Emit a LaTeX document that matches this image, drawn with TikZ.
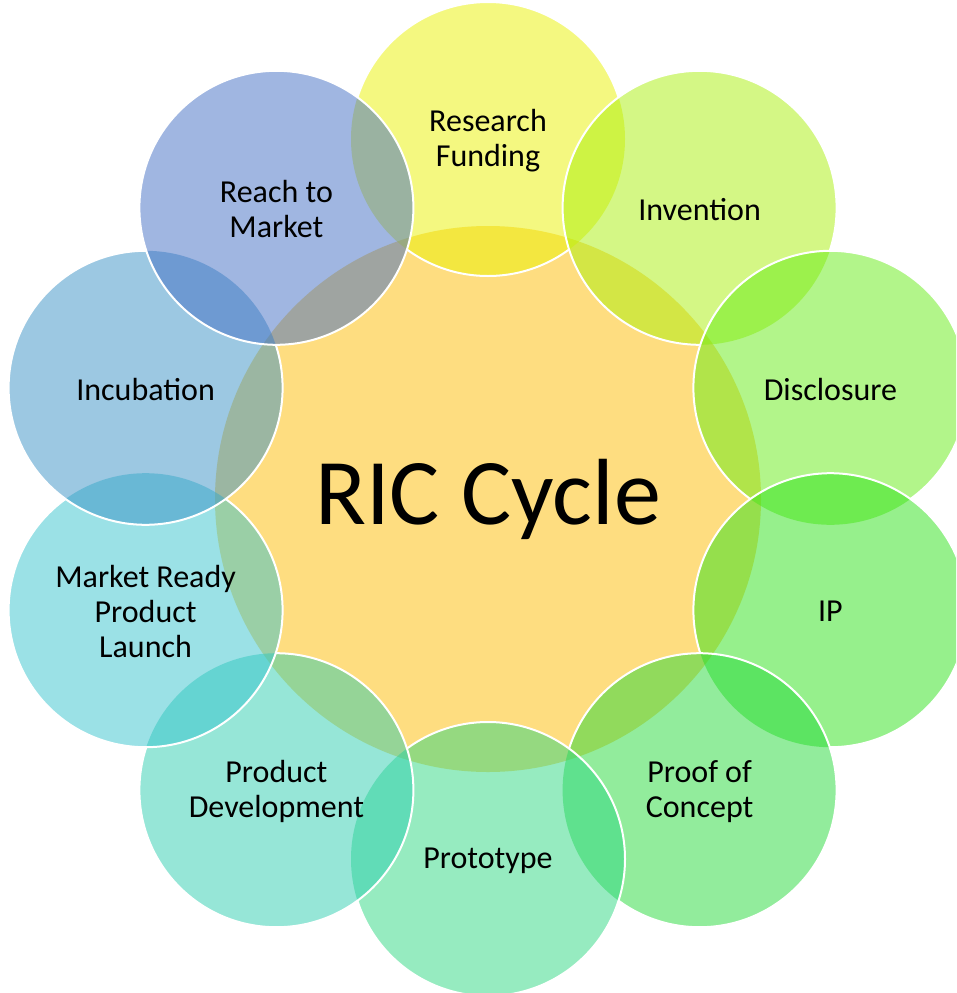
\documentclass[tikz,border=0pt]{standalone}
\usepackage{fontspec}
\setmainfont{Carlito}
\definecolor{ccenter}{RGB}{254,221,128}
\definecolor{cA}{RGB}{233,241,1}
\definecolor{cB}{RGB}{169,239,11}
\definecolor{cC}{RGB}{101,235,21}
\definecolor{cD}{RGB}{45,225,25}
\definecolor{cE}{RGB}{37,217,57}
\definecolor{cF}{RGB}{45,215,129}
\definecolor{cG}{RGB}{45,205,175}
\definecolor{cH}{RGB}{55,195,205}
\definecolor{cI}{RGB}{57,145,197}
\definecolor{cJ}{RGB}{65,109,195}
\begin{document}
\begin{tikzpicture}[x=1pt,y=-1pt,
  centrebox/.style={circle,minimum size=546pt,inner sep=0pt,fill=ccenter},
  outerbox/.style={circle,minimum size=274pt,inner sep=0pt,fill opacity=0.5,text opacity=1},
  rim/.style={white,line width=2pt},
  lbl/.style={align=center,text=black,font=\fontsize{32}{35}\selectfont,yshift=-1.5pt},
  biglbl/.style={text=black,font=\fontsize{94}{100}\selectfont}]
\useasboundingbox (0,0) rectangle (956,993);
\clip (0,0) rectangle (956,993);
% centre
\node[centrebox] (c) at (488,499) {};
% outer circles (drawn clockwise from top)
\node[outerbox,fill=cA] (rf) at (488.0,139.0) {};
\coordinate (pB) at (699.6,207.8);
\coordinate (pJ) at (276.4,207.8);
\begin{scope}[even odd rule]
\clip (-50,-50) rectangle (1010,1050) (pB) circle[radius=137pt] (pJ) circle[radius=137pt];
\draw[rim] (rf.center) circle[radius=137pt];
\end{scope}

\node[outerbox,fill=cB] (inv) at (699.6,207.8) {};
\begin{scope}[even odd rule]
\clip (-50,-50) rectangle (1010,1050) (830.4,387.8) circle[radius=137pt];
\draw[rim] (inv.center) circle[radius=137pt];
\end{scope}

\node[outerbox,fill=cC] (dis) at (830.4,387.8) {};
\begin{scope}[even odd rule]
\clip (-50,-50) rectangle (1010,1050) (830.4,610.2) circle[radius=137pt];
\draw[rim] (dis.center) circle[radius=137pt];
\end{scope}

\node[outerbox,fill=cD] (ip) at (830.4,610.2) {};
\begin{scope}[even odd rule]
\clip (-50,-50) rectangle (1010,1050) (699.6,790.2) circle[radius=137pt];
\draw[rim] (ip.center) circle[radius=137pt];
\end{scope}

\node[outerbox,fill=cE] (poc) at (699.6,790.2) {};
\begin{scope}[even odd rule]
\clip (-50,-50) rectangle (1010,1050) (488.0,859.0) circle[radius=137pt];
\draw[rim] (poc.center) circle[radius=137pt];
\end{scope}

\node[outerbox,fill=cF] (pro) at (488.0,859.0) {};
\begin{scope}[even odd rule]
\clip (-50,-50) rectangle (1010,1050) (276.4,790.2) circle[radius=137pt];
\draw[rim] (pro.center) circle[radius=137pt];
\end{scope}

\node[outerbox,fill=cG] (pd) at (276.4,790.2) {};
\begin{scope}[even odd rule]
\clip (-50,-50) rectangle (1010,1050) (145.6,610.2) circle[radius=137pt];
\draw[rim] (pd.center) circle[radius=137pt];
\end{scope}

\node[outerbox,fill=cH] (mr) at (145.6,610.2) {};
\begin{scope}[even odd rule]
\clip (-50,-50) rectangle (1010,1050) (145.6,387.8) circle[radius=137pt];
\draw[rim] (mr.center) circle[radius=137pt];
\end{scope}

\node[outerbox,fill=cI] (inc) at (145.6,387.8) {};
\begin{scope}[even odd rule]
\clip (-50,-50) rectangle (1010,1050) (276.4,207.8) circle[radius=137pt];
\draw[rim] (inc.center) circle[radius=137pt];
\end{scope}

\node[outerbox,fill=cJ] (rtm) at (276.4,207.8) {};
\draw[rim] (rtm.center) circle[radius=137pt];

% labels
\node[biglbl] (ct) at (c.center) {RIC Cycle};
\node[lbl] (rft) at (rf.center) {Research\\Funding};
\node[lbl] (invt) at (inv.center) {Invention};
\node[lbl] (dist) at (dis.center) {Disclosure};
\node[lbl] (ipt) at (ip.center) {IP};
\node[lbl] (poct) at (poc.center) {Proof of\\Concept};
\node[lbl] (prot) at (pro.center) {Prototype};
\node[lbl] (pdt) at (pd.center) {Product\\Development};
\node[lbl] (mrt) at (mr.center) {Market Ready\\Product\\Launch};
\node[lbl] (inct) at (inc.center) {Incubation};
\node[lbl] (rtmt) at (rtm.center) {Reach to\\Market};
\end{tikzpicture}
\end{document}
